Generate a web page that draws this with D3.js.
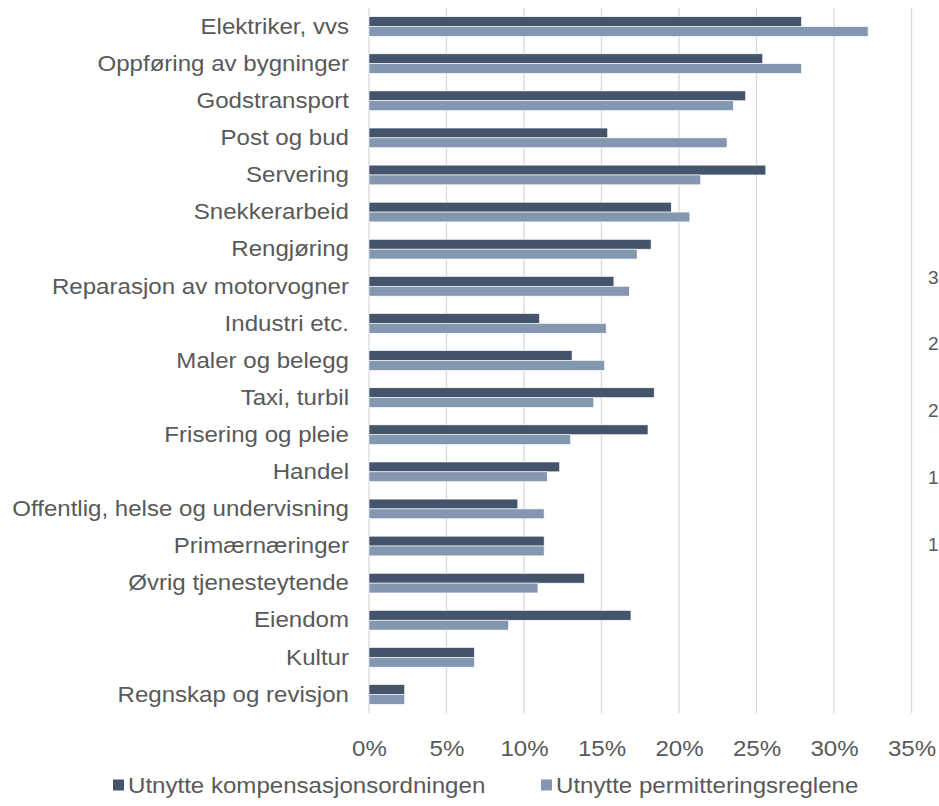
<!DOCTYPE html>
<html>
<head>
<meta charset="utf-8">
<script src="https://cdn.jsdelivr.net/npm/d3@7"></script>
<style>
  html, body { margin: 0; padding: 0; background: #ffffff; overflow: hidden; }
  svg { display: block; }
  text { font-family: "Liberation Sans", Arial, sans-serif; fill: #595959; }
</style>
</head>
<body>
<svg id="chart" width="939" height="806"></svg>
<script>
// Industries, top to bottom
const categories = [
  "Elektriker, vvs",
  "Oppføring av bygninger",
  "Godstransport",
  "Post og bud",
  "Servering",
  "Snekkerarbeid",
  "Rengjøring",
  "Reparasjon av motorvogner",
  "Industri etc.",
  "Maler og belegg",
  "Taxi, turbil",
  "Frisering og pleie",
  "Handel",
  "Offentlig, helse og undervisning",
  "Primærnæringer",
  "Øvrig tjenesteytende",
  "Eiendom",
  "Kultur",
  "Regnskap og revisjon"
];

// Share of firms (%) per series
const kompensasjon = [27.9, 25.4, 24.3, 15.4, 25.6, 19.5, 18.2, 15.8, 11.0, 13.1, 18.4, 18.0, 12.3, 9.6, 11.3, 13.9, 16.9, 6.8, 2.3];
const permittering = [32.2, 27.9, 23.5, 23.1, 21.4, 20.7, 17.3, 16.8, 15.3, 15.2, 14.5, 13.0, 11.5, 11.3, 11.3, 10.9, 9.0, 6.8, 2.3];

const seriesNames = ["Utnytte kompensasjonsordningen", "Utnytte permitteringsreglene"];
const seriesColors = ["#44546A", "#8497B0"];

const xTicks = [0, 5, 10, 15, 20, 25, 30, 35];

// Leading digits of the neighbouring panel's axis labels at the right edge
const sideLabels = ["3", "2", "2", "1", "1"];

const fontSize = 22.5;
const stretch = "scale(1.07,1)";

const svg = d3.select("#chart");

const x = d3.scaleLinear().domain([0, 35]).range([369, 911.5]);
const y = d3.scaleBand().domain(categories).range([8, 713]).paddingInner(0.47).paddingOuter(0.235);
const sub = d3.scaleBand().domain([0, 1]).range([0, y.bandwidth()]);

// Vertical gridlines (including the 0 line)
svg.append("g")
  .selectAll("line")
  .data(xTicks)
  .join("line")
  .attr("x1", d => x(d)).attr("x2", d => x(d))
  .attr("y1", 8).attr("y2", 713)
  .attr("stroke", "#d9d9d9")
  .attr("stroke-width", 1.3);

// Bars
const rows = categories.map((c, i) => ({ c, vals: [kompensasjon[i], permittering[i]] }));
const groups = svg.append("g")
  .selectAll("g")
  .data(rows)
  .join("g")
  .attr("transform", d => `translate(0,${y(d.c)})`);

groups.selectAll("rect")
  .data(d => d.vals.map((v, k) => ({ v, k })))
  .join("rect")
  .attr("x", x(0))
  .attr("y", d => sub(d.k))
  .attr("width", d => x(d.v) - x(0))
  .attr("height", sub.bandwidth())
  .attr("fill", d => seriesColors[d.k])
  .attr("stroke", "#ffffff")
  .attr("stroke-width", 0.6);

// Category labels
const yAxis = d3.axisLeft(y).tickSize(0).tickPadding(0);
const yg = svg.append("g").attr("transform", "translate(349,0)").call(yAxis);
yg.select(".domain").remove();
yg.selectAll("text")
  .attr("font-size", fontSize)
  .attr("fill", "#595959")
  .attr("transform", stretch)
  .style("font-family", '"Liberation Sans", Arial, sans-serif');

// Percentage tick labels
const xAxis = d3.axisBottom(x).tickValues(xTicks).tickFormat(d => d + "%").tickSize(0).tickPadding(0);
const xg = svg.append("g").attr("transform", "translate(0,740)").call(xAxis);
xg.select(".domain").remove();
xg.selectAll("text")
  .attr("dy", "0.71em")
  .attr("font-size", fontSize)
  .attr("fill", "#595959")
  .attr("transform", stretch)
  .style("font-family", '"Liberation Sans", Arial, sans-serif');

// Legend
const legendX = [113, 541];
const legend = svg.append("g")
  .selectAll("g")
  .data(seriesNames)
  .join("g")
  .attr("transform", (d, i) => `translate(${legendX[i]},785)`);
legend.append("rect")
  .attr("x", 0).attr("y", -5.5)
  .attr("width", 11).attr("height", 11)
  .attr("fill", (d, i) => seriesColors[i]);
legend.append("text")
  .attr("x", 0)
  .attr("dy", "0.35em")
  .attr("font-size", fontSize)
  .attr("transform", "translate(15,0) " + stretch)
  .text(d => d);

// Neighbouring panel axis digits
const sideY = d3.scalePoint().domain(d3.range(sideLabels.length)).range([277, 544]);
svg.append("g")
  .selectAll("text")
  .data(sideLabels)
  .join("text")
  .attr("x", 928)
  .attr("y", (d, i) => sideY(i))
  .attr("dy", "0.35em")
  .attr("font-size", 19)
  .text(d => d);
</script>
</body>
</html>
